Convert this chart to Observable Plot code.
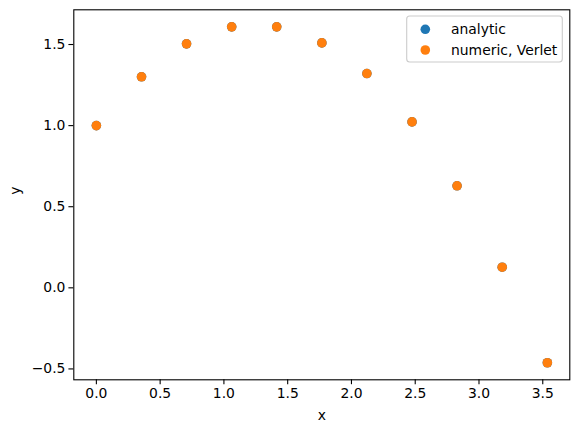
<!DOCTYPE html>
<html>
<head>
<meta charset="utf-8">
<script src="https://cdn.jsdelivr.net/npm/d3@7"></script>
<script src="https://cdn.jsdelivr.net/npm/@observablehq/plot@0.6"></script>
<style>
  html, body { margin: 0; padding: 0; background: white; }
  #chart { position: relative; width: 578px; height: 432px; }
</style>
</head>
<body>
<div id="chart"></div>
<script>
const xValues = [0, 0.354, 0.707, 1.061, 1.414, 1.768, 2.121, 2.475, 2.828, 3.182, 3.536];
const yAnalytic = [1.0, 1.301, 1.504, 1.609, 1.609, 1.510, 1.321, 1.023, 0.629, 0.127, -0.462];
const yVerlet   = [1.0, 1.301, 1.504, 1.609, 1.609, 1.510, 1.321, 1.023, 0.629, 0.127, -0.462];
const seriesNames = ["analytic", "numeric, Verlet"];
const seriesColors = ["#1f77b4", "#ff7f0e"];
const xTicks = [0, 0.5, 1.0, 1.5, 2.0, 2.5, 3.0, 3.5];
const yTicks = [-0.5, 0.0, 0.5, 1.0, 1.5];

const analytic = xValues.map((x, i) => ({x, y: yAnalytic[i]}));
const verlet = xValues.map((x, i) => ({x, y: yVerlet[i]}));

const font = "DejaVu Sans, sans-serif";
const fs = 13.9;
const fmt = d => d.toFixed(1).replace("-", "\u2212");

const plot = Plot.plot({
  width: 578,
  height: 432,
  marginLeft: 73.3,
  marginRight: 8.7,
  marginTop: 9.3,
  marginBottom: 52.7,
  style: {fontFamily: font, fontSize: fs + "px", color: "black", background: "white"},
  x: {domain: [-0.177, 3.712]},
  y: {domain: [-0.567, 1.714]},
  marks: [
    Plot.axisX({ticks: xTicks, tickFormat: fmt, tickSize: 4.9, tickPadding: 3.5, strokeWidth: 1.1, label: null, fontSize: fs}),
    Plot.axisY({ticks: yTicks, tickFormat: fmt, tickSize: 4.9, tickPadding: 3.5, strokeWidth: 1.1, label: null, fontSize: fs}),
    Plot.dot(analytic, {x: "x", y: "y", r: 4.8, fill: seriesColors[0], stroke: null}),
    Plot.dot(verlet, {x: "x", y: "y", r: 4.8, fill: seriesColors[1], stroke: null}),
    Plot.frame({stroke: "black", strokeWidth: 1.1}),
    Plot.text(["x"], {frameAnchor: "bottom", dy: 36, text: d => d, fontSize: fs, lineAnchor: "middle", fill: "black"}),
    Plot.text(["y"], {frameAnchor: "left", dx: -58, text: d => d, rotate: -90, fontSize: fs, lineAnchor: "middle", fill: "black"})
  ]
});
document.getElementById("chart").appendChild(plot);

// legend inside plot area (upper right)
const svg = d3.select(plot);
const lg = svg.append("g").attr("font-family", font).attr("font-size", fs).attr("text-anchor", "start");
lg.append("rect").attr("x", 406.7).attr("y", 16).attr("width", 155.6).attr("height", 46)
  .attr("rx", 3).attr("fill", "white").attr("fill-opacity", 0.8).attr("stroke", "#cccccc").attr("stroke-width", 1.1);
seriesNames.forEach((name, i) => {
  const cy = 29.3 + i * 20.7;
  lg.append("circle").attr("cx", 425.3).attr("cy", cy).attr("r", 4.8).attr("fill", seriesColors[i]);
  lg.append("text").attr("x", 451).attr("y", cy).attr("dy", "0.35em").attr("text-anchor", "start").attr("fill", "black").text(name);
});
</script>
</body>
</html>
